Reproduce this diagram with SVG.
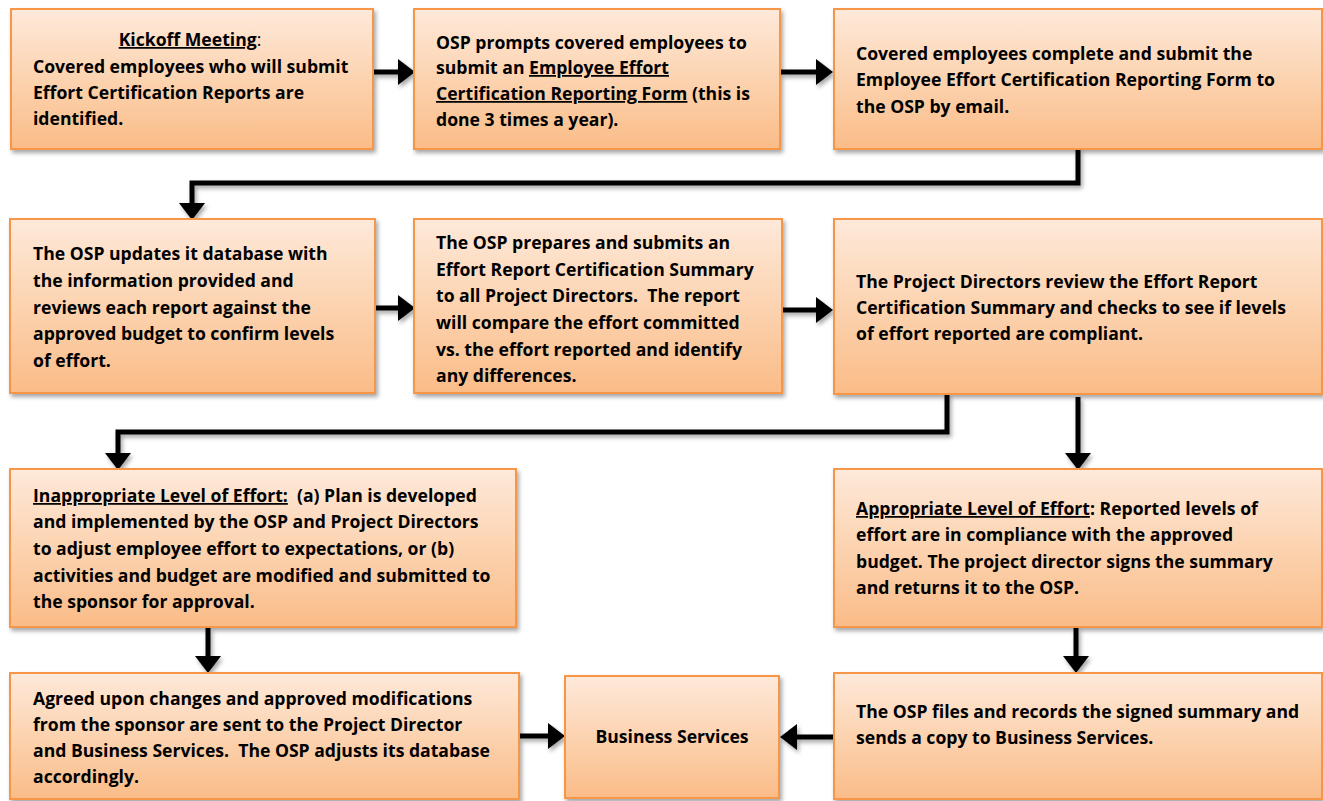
<svg xmlns="http://www.w3.org/2000/svg" width="1323" height="801" viewBox="0 0 1323 801">
<defs>
<linearGradient id="g" x1="0" y1="0" x2="0" y2="1">
<stop offset="0" stop-color="#FEE9DA"/>
<stop offset="0.5" stop-color="#FCD3B0"/>
<stop offset="1" stop-color="#FABC88"/>
</linearGradient>
<filter id="sh" x="-5%" y="-10%" width="115%" height="130%">
<feDropShadow dx="2" dy="3" stdDeviation="2" flood-color="#000" flood-opacity="0.35"/>
</filter>
<marker id="ah" markerUnits="userSpaceOnUse" markerWidth="17" markerHeight="26" refX="0" refY="13" orient="auto" overflow="visible">
<path d="M0,0 L17,13 L0,26 z" fill="#000"/>
</marker>
<style>
.box{fill:url(#g);stroke:#F79646;stroke-width:2;filter:url(#sh)}
.t{font-family:"Open Sans",Lato,sans-serif;font-weight:700;font-size:17.6px;fill:#000}
.u{text-decoration:underline}
.c{fill:none;stroke:#000;stroke-width:5;marker-end:url(#ah)}
</style>
</defs>
<rect width="1323" height="801" fill="#fff"/>
<g id="connectors" filter="url(#sh)">
<path class="c" d="M374,72 H398"/>
<path class="c" d="M781,72 H816"/>
<path class="c" d="M1078,149 V183 H192 V203"/>
<path class="c" d="M376,308 H398"/>
<path class="c" d="M783,310 H816"/>
<path class="c" d="M947,394 V432 H118 V453"/>
<path class="c" d="M1078,397 V453"/>
<path class="c" d="M208,628 V656"/>
<path class="c" d="M1076,628 V656"/>
<path class="c" d="M520,736 H548"/>
<path class="c" d="M834,737 H797"/>
</g>
<g id="n1">
<rect class="box" x="11" y="9" width="362" height="140"/>
<text class="t" x="190" y="46" text-anchor="middle"><tspan class="u">Kickoff Meeting</tspan><tspan font-weight="400">:</tspan></text>
<text class="t" x="33" y="73">Covered employees who will submit</text>
<text class="t" x="33" y="99">Effort Certification Reports are</text>
<text class="t" x="33" y="125">identified.</text>
</g>
<g id="n2">
<rect class="box" x="414" y="9" width="366" height="140"/>
<text class="t" x="436" y="49">OSP prompts covered employees to</text>
<text class="t" x="436" y="74">submit an <tspan class="u">Employee Effort</tspan></text>
<text class="t" x="436" y="100"><tspan class="u">Certification Reporting Form</tspan> (this is</text>
<text class="t" x="436" y="126">done 3 times a year).</text>
</g>
<g id="n3">
<rect class="box" x="834" y="9" width="488" height="140"/>
<text class="t" x="856" y="60">Covered employees complete and submit the</text>
<text class="t" x="856" y="86">Employee Effort Certification Reporting Form to</text>
<text class="t" x="856" y="113">the OSP by email.</text>
</g>
<g id="n4">
<rect class="box" x="10" y="219" width="365" height="174"/>
<text class="t" x="33" y="260">The OSP updates it database with</text>
<text class="t" x="33" y="287">the information provided and</text>
<text class="t" x="33" y="314">reviews each report against the</text>
<text class="t" x="33" y="340">approved budget to confirm levels</text>
<text class="t" x="33" y="367">of effort.</text>
</g>
<g id="n5">
<rect class="box" x="414" y="219" width="368" height="174"/>
<text class="t" x="436" y="249">The OSP prepares and submits an</text>
<text class="t" x="436" y="276">Effort Report Certification Summary</text>
<text class="t" x="436" y="302" xml:space="preserve">to all Project Directors.  The report</text>
<text class="t" x="436" y="329">will compare the effort committed</text>
<text class="t" x="436" y="356">vs. the effort reported and identify</text>
<text class="t" x="436" y="382">any differences.</text>
</g>
<g id="n6">
<rect class="box" x="834" y="219" width="488" height="175"/>
<text class="t" x="856" y="288">The Project Directors review the Effort Report</text>
<text class="t" x="856" y="314">Certification Summary and checks to see if levels</text>
<text class="t" x="856" y="340">of effort reported are compliant.</text>
</g>
<g id="n7">
<rect class="box" x="10" y="469" width="506" height="158"/>
<text class="t" x="33" y="502" xml:space="preserve"><tspan class="u">Inappropriate Level of Effort:</tspan>  (a) Plan is developed</text>
<text class="t" x="33" y="528">and implemented by the OSP and Project Directors</text>
<text class="t" x="33" y="555">to adjust employee effort to expectations, or (b)</text>
<text class="t" x="33" y="582">activities and budget are modified and submitted to</text>
<text class="t" x="33" y="608">the sponsor for approval.</text>
</g>
<g id="n8">
<rect class="box" x="834" y="469" width="488" height="158"/>
<text class="t" x="856" y="515"><tspan class="u">Appropriate Level of Effort</tspan>: Reported levels of</text>
<text class="t" x="856" y="541">effort are in compliance with the approved</text>
<text class="t" x="856" y="568">budget. The project director signs the summary</text>
<text class="t" x="856" y="594">and returns it to the OSP.</text>
</g>
<g id="n9">
<rect class="box" x="10" y="673" width="509" height="126"/>
<text class="t" x="33" y="705">Agreed upon changes and approved modifications</text>
<text class="t" x="33" y="731">from the sponsor are sent to the Project Director</text>
<text class="t" x="33" y="757" xml:space="preserve">and Business Services.  The OSP adjusts its database</text>
<text class="t" x="33" y="783">accordingly.</text>
</g>
<g id="n10">
<rect class="box" x="565" y="676" width="214" height="122"/>
<text class="t" x="672" y="743" text-anchor="middle">Business Services</text>
</g>
<g id="n11">
<rect class="box" x="834" y="673" width="488" height="126"/>
<text class="t" x="856" y="718">The OSP files and records the signed summary and</text>
<text class="t" x="856" y="744">sends a copy to Business Services.</text>
</g>
</svg>
